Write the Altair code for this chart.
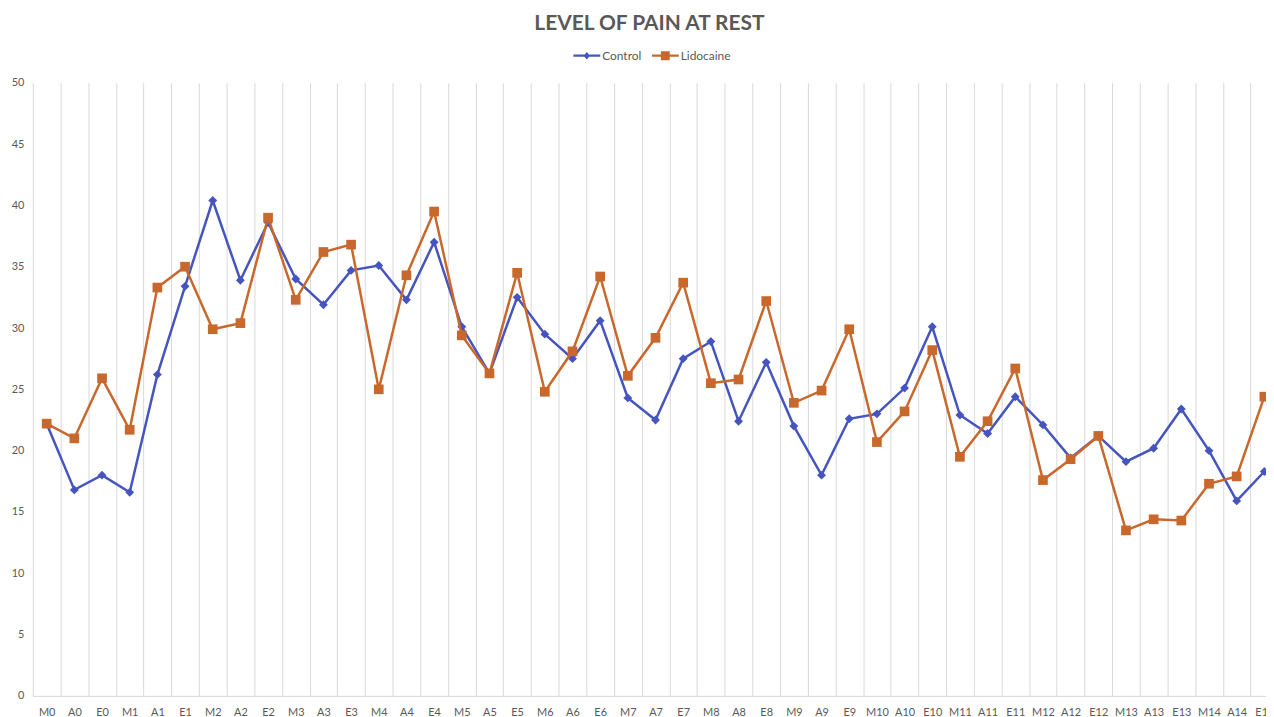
import json
import altair as alt
import pandas as pd

categories = [
    "M0", "A0", "E0", "M1", "A1", "E1", "M2", "A2", "E2", "M3", "A3", "E3",
    "M4", "A4", "E4", "M5", "A5", "E5", "M6", "A6", "E6", "M7", "A7", "E7",
    "M8", "A8", "E8", "M9", "A9", "E9", "M10", "A10", "E10", "M11", "A11", "E11",
    "M12", "A12", "E12", "M13", "A13", "E13", "M14", "A14", "E14",
]
control = [
    22.2, 16.8, 18.0, 16.6, 26.2, 33.4, 40.4, 33.9, 38.6, 34.0, 31.9, 34.7,
    35.1, 32.3, 37.0, 30.1, 26.3, 32.5, 29.5, 27.5, 30.6, 24.3, 22.5, 27.5,
    28.9, 22.4, 27.2, 22.0, 18.0, 22.6, 23.0, 25.1, 30.1, 22.9, 21.4, 24.4,
    22.1, 19.4, 21.2, 19.1, 20.2, 23.4, 20.0, 15.9, 18.3,
]
lidocaine = [
    22.2, 21.0, 25.9, 21.7, 33.3, 35.0, 29.9, 30.4, 39.0, 32.3, 36.2, 36.8,
    25.0, 34.3, 39.5, 29.4, 26.3, 34.5, 24.8, 28.1, 34.2, 26.1, 29.2, 33.7,
    25.5, 25.8, 32.2, 23.9, 24.9, 29.9, 20.7, 23.2, 28.2, 19.5, 22.4, 26.7,
    17.6, 19.3, 21.2, 13.5, 14.4, 14.3, 17.3, 17.9, 24.4,
]
series_names = ["Control", "Lidocaine"]
series_colors = ["#4655BE", "#C8682C"]
y_ticks = [0, 5, 10, 15, 20, 25, 30, 35, 40, 45, 50]

rows = []
for name, vals in zip(series_names, [control, lidocaine]):
    for i, (c, v) in enumerate(zip(categories, vals)):
        rows.append({"idx": i, "cat": c, "series": name, "value": v})
df = pd.DataFrame(rows)

FONT = "Lato"
TXT = "#595959"
GRID = "#d9d9d9"

x_vals = [i / 2 for i in range(-1, 2 * len(categories) - 1)]
label_expr = "datum.value % 1 == 0 ? " + json.dumps(categories) + "[datum.value] : ''"

x_enc = alt.X(
    "idx:Q",
    scale=alt.Scale(domain=[-0.5, 44.06], nice=False, zero=False),
    axis=alt.Axis(
        values=x_vals,
        labelExpr=label_expr,
        grid=True,
        gridColor=GRID,
        gridWidth=1,
        gridOpacity={"condition": {"test": "datum.value % 1 != 0", "value": 1}, "value": 0},
        ticks=False,
        tickSize=0,
        domainColor=GRID,
        domainWidth=1,
        labelColor=TXT,
        labelFont=FONT,
        labelFontSize=11,
        labelPadding=17,
        labelBaseline="middle",
        labelOverlap=False,
        labelFlush=False,
        labelBound=False,
        title=None,
    ),
)
y_enc = alt.Y(
    "value:Q",
    scale=alt.Scale(domain=[0, 50], nice=False, zero=True),
    axis=alt.Axis(
        values=y_ticks,
        grid=False,
        domain=False,
        ticks=False,
        tickSize=0,
        labelColor=TXT,
        labelFont=FONT,
        labelFontSize=11,
        labelPadding=9,
        title=None,
    ),
)
color_scale = alt.Scale(domain=series_names, range=series_colors)

base = alt.Chart(df)

legend_paths = [
    "M-1,-0.085H1V0.085H-1Z M-0.24,0L0,-0.28L0.24,0L0,0.28Z",
    "M-1,-0.085H1V0.085H-1Z M-0.33,-0.33H0.33V0.33H-0.33Z",
]
legend_def = alt.Legend(
    title=None,
    orient="none",
    direction="horizontal",
    legendX=544,
    legendY=-41,
    symbolSize=729,
    symbolStrokeWidth=0,
    labelOffset=2,
    columnPadding=10,
    labelFont=FONT,
    labelFontSize=12,
    labelColor=TXT,
    padding=0,
)
# legend-only layer (draws no marks); placed first so its legend is kept
legend_layer = base.transform_filter("false").mark_point(filled=True, opacity=1).encode(
    color=alt.Color("series:N", scale=color_scale, legend=legend_def),
    shape=alt.Shape(
        "series:N",
        scale=alt.Scale(domain=series_names, range=legend_paths),
        legend=legend_def,
    ),
)
layers = [legend_layer]

for name, shape, size in [("Control", "diamond", 80), ("Lidocaine", "square", 95)]:
    sub = base.transform_filter(alt.datum.series == name)
    layers.append(
        sub.mark_line(strokeWidth=2.5).encode(
            x=x_enc, y=y_enc,
            color=alt.Color("series:N", scale=color_scale, legend=None),
        )
    )
    layers.append(
        sub.mark_point(shape=shape, filled=True, size=size, opacity=1).encode(
            x=x_enc, y=y_enc,
            color=alt.Color("series:N", scale=color_scale, legend=None),
        )
    )

chart = alt.layer(*layers).properties(
    width=1241,
    height=617,
    padding={"left": 25, "top": 73, "right": 0, "bottom": 20},
    autosize=alt.AutoSizeParams(type="none"),
    title=alt.TitleParams(
        "LEVEL OF PAIN AT REST",
        anchor="middle",
        font=FONT,
        fontSize=21,
        fontWeight="bold",
        color=TXT,
        offset=8,
    ),
).configure_view(stroke=None)

chart.save("out.html", embed_options={"renderer": "svg", "actions": False})
